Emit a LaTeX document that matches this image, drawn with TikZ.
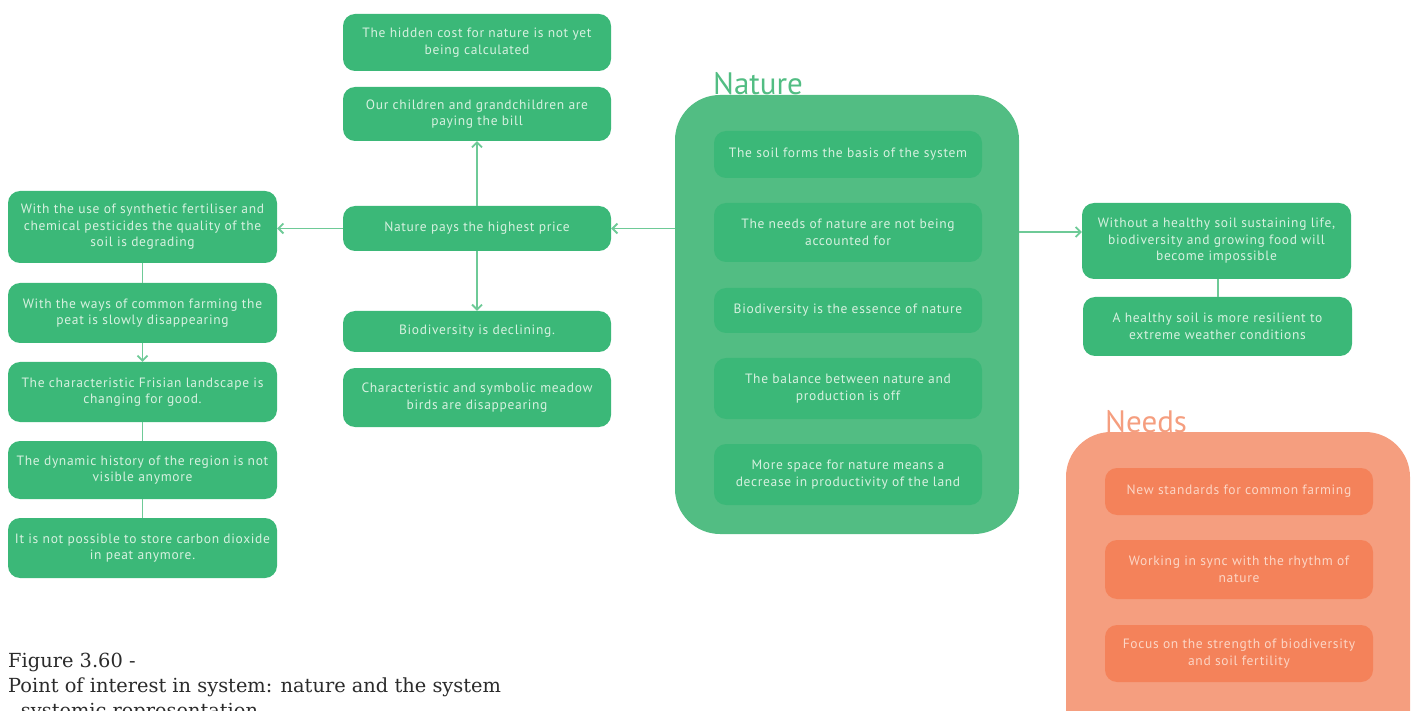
\documentclass[tikz,border=0pt]{standalone}
\usepackage{fontspec}
\setmainfont{DejaVu Serif}
\newfontfamily\boxfont[LetterSpace=5]{PT Sans}
\newfontfamily\titlefont{PT Sans}
\usetikzlibrary{arrows.meta}

\definecolor{boxgreen}{HTML}{3BB878}
\definecolor{natfill}{HTML}{52BD83}
\definecolor{gtext}{HTML}{D7F1E0}
\definecolor{linkgreen}{HTML}{6ECA97}
\definecolor{needfill}{HTML}{F59E7F}
\definecolor{needbox}{HTML}{F4825A}
\definecolor{otext}{HTML}{FCD6C6}
\definecolor{captext}{HTML}{2B2B2B}

\begin{document}
\begin{tikzpicture}[x=1pt,y=-1pt,
  gbox/.style={fill=boxgreen, rounded corners=12pt, text=gtext,
    font=\boxfont\fontsize{13.5}{16.5}\selectfont, align=center,
    inner sep=0pt, minimum width=269pt},
  obox/.style={gbox, fill=needbox, text=otext},
  group/.style={rounded corners=45pt, inner sep=0pt},
  grouptitle/.style={anchor=base west, inner sep=0pt,
    font=\titlefont\fontsize{31}{34}\selectfont},
  link/.style={draw=linkgreen, line width=1.4pt},
  arr/.style={link, -{Straight Barb[length=5pt,width=10pt,line width=1.8pt]}},
  caption/.style={anchor=base west, inner sep=0pt, text=captext,
    font=\fontsize{19.4}{25}\selectfont}
]
\useasboundingbox (0,0) rectangle (1414,711);

% ---- Nature group ----
\node[grouptitle, text=natfill] (natureTitle) at (713,95) {Nature};
\node[group, fill=natfill, minimum width=344pt, minimum height=439pt] (nature) at (847,314.5) {};
\node[gbox, minimum width=268pt, minimum height=47pt] (n1) at (848,154.5) {The soil forms the basis of the system};
\node[gbox, minimum width=268pt, minimum height=59pt] (n2) at (848,232.5) {The needs of nature are not being\\accounted for};
\node[gbox, minimum width=268pt, minimum height=45pt] (n3) at (848,310.5) {Biodiversity is the essence of nature};
\node[gbox, minimum width=268pt, minimum height=61pt] (n4) at (848,388.5) {The balance between nature and\\production is off};
\node[gbox, minimum width=268pt, minimum height=61pt] (n5) at (848,474.5) {More space for nature means a\\decrease in productivity of the land};

% ---- Needs group ----
\node[grouptitle, text=needfill] (needsTitle) at (1105,432) {Needs};
\node[group, fill=needfill, minimum width=344pt, minimum height=328pt] (needs) at (1238,596) {};
\node[obox, minimum width=268pt, minimum height=47pt] (s1) at (1239,491.5) {New standards for common farming};
\node[obox, minimum width=268pt, minimum height=59pt] (s2) at (1239,569.5) {Working in sync with the rhythm of\\nature};
\node[obox, minimum width=268pt, minimum height=57pt] (s3) at (1239,653.5) {Focus on the strength of biodiversity\\and soil fertility};

% ---- Middle column ----
\node[gbox, minimum width=268pt, minimum height=57pt] (m1) at (477,42.5) {The hidden cost for nature is not yet\\being calculated};
\node[gbox, minimum width=268pt, minimum height=54pt] (m2) at (477,114) {Our children and grandchildren are\\paying the bill};
\node[gbox, minimum width=268pt, minimum height=45pt] (m3) at (477,228.5) {Nature pays the highest price};
\node[gbox, minimum width=268pt, minimum height=41pt] (m4) at (477,331.5) {Biodiversity is declining.};
\node[gbox, minimum width=268pt, minimum height=59pt] (m5) at (477,397.5) {Characteristic and symbolic meadow\\birds are disappearing};

% ---- Left column ----
\node[gbox, minimum height=72pt] (l1) at (142.5,227) {With the use of synthetic fertiliser and\\chemical pesticides the quality of the\\soil is degrading};
\node[gbox, minimum height=60pt] (l2) at (142.5,313) {With the ways of common farming the\\peat is slowly disappearing};
\node[gbox, minimum height=60pt] (l3) at (142.5,392) {The characteristic Frisian landscape is\\changing for good.};
\node[gbox, minimum height=58pt] (l4) at (142.5,470) {The dynamic history of the region is not\\visible anymore};
\node[gbox, minimum height=60pt] (l5) at (142.5,548) {It is not possible to store carbon dioxide\\in peat anymore.};

% ---- Right column ----
\node[gbox, minimum height=76pt] (r1) at (1216.5,241) {Without a healthy soil sustaining life,\\biodiversity and growing food will\\become impossible};
\node[gbox, minimum height=59pt] (r2) at (1217.5,326.5) {A healthy soil is more resilient to\\extreme weather conditions};

% ---- Connectors ----
\draw[arr] (nature.west |- m3.east) -- (m3.east);
\draw[arr] (m3.west) -- (m3.west -| l1.east);
\draw[arr] (m3.north) -- (m2.south);
\draw[arr] (m3.south) -- (m4.north);
\draw[arr] ([yshift=9pt]nature.east |- r1.west) -- ([yshift=9pt]r1.west);
\draw[link] (r1.south -| 1218,0) -- (r2.north -| 1218,0);
\draw[link] (l1.south) -- (l2.north);
\draw[arr] (l2.south) -- (l3.north);
\draw[link] (l3.south) -- (l4.north);
\draw[link] (l4.south) -- (l5.north);

% ---- Caption ----
\node[caption] (cap1) at (8,667) {Figure 3.60 -};
\node[caption] (cap2) at (8,692) {Point of interest in system: nature and the system};
\node[caption] (cap3) at (8,717) {- systemic representation};
\end{tikzpicture}
\end{document}
